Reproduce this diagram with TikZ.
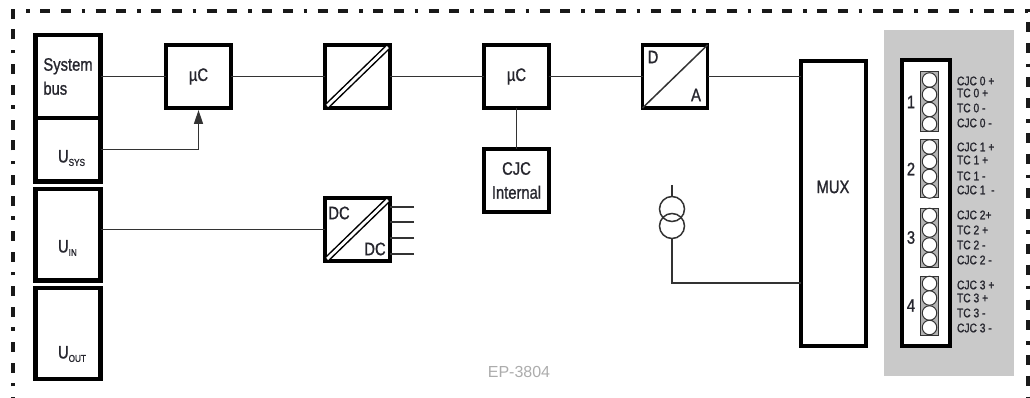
\documentclass[tikz,border=0pt]{standalone}
\usepackage{fontspec}
\setmainfont[FakeStretch=0.82, FakeBold=1.1]{Liberation Sans}
\newfontfamily\widefont{Liberation Sans}
\usetikzlibrary{arrows.meta}
\definecolor{ink}{HTML}{26262E}
\definecolor{wirecol}{HTML}{333333}
\definecolor{panelcol}{HTML}{C9C9C9}
\newcommand{\usub}[1]{U\raisebox{-3.5pt}{\fontsize{10}{10}\selectfont #1}}

\begin{document}
\begin{tikzpicture}[
  x=1pt, y=-1pt,
  every node/.style={inner sep=0pt, outer sep=0pt},
  block/.style={draw, line width=4.6pt, minimum width=65pt, minimum height=63pt, fill=white},
  slot/.style={draw=wirecol, line width=1pt, minimum width=18pt, minimum height=#1, fill=gray!60},
  pin/.style={circle, draw=wirecol, line width=1pt, fill=white, minimum size=14.5pt},
  coil/.style={circle, draw=wirecol, line width=1.5pt, minimum size=25pt},
  wire/.style={draw=wirecol, line width=1.5pt},
  arrow/.style={draw=wirecol, line width=1.5pt, -{Triangle[length=14pt,width=9pt]}, shorten >=2pt},
  dbl/.style={draw=black, line width=1.5pt, double=white, double distance=2.8pt, shorten >=3pt, shorten <=3pt},
  txt/.style={text=ink, font=\fontsize{18}{24}\selectfont},
  tiny/.style={text=ink, anchor=west, font=\fontsize{12.5}{14}\selectfont},
  frameline/.style={draw=black!90, line width=3.2pt, dash pattern=on 10pt off 10.8pt on 10pt off 10.8pt on 3.5pt off 10.4pt, dash phase=30pt}]

  \useasboundingbox (0,0) rectangle (1030,398);

  % outer frame
  \coordinate (fa) at (13,398);
  \coordinate (fb) at (13,11);
  \coordinate (fc) at (1028,11);
  \coordinate (fd) at (1028,398);
  \draw[frameline] (fa) -- (fb) -- (fc) -- (fd);

  % left column
  \node[block, minimum height=83pt, txt, align=left] (sys) at (68,76.5) {System\\bus};
  \node[block, minimum height=63.5pt] (usys) at (68,149.75) {};
  \node[block, minimum height=91.5pt] (uin)  at (68,234.75) {};
  \node[block, minimum height=91pt] (uout) at (68,333.5) {};
  \node[txt, anchor=west] (usyst) at (58,158) {\usub{SYS}};
  \node[txt, anchor=west] (uint)  at (58,248) {\usub{IN}};
  \node[txt, anchor=west] (uoutt) at (58,354) {\usub{OUT}};

  % top row
  \node[block, txt] (uca) at (198.5,76.5) {µC};
  \node[block, line width=3.8pt] (conv) at (357.5,76.5) {};
  \node[block, line width=3.8pt, txt] (ucb) at (516.5,76.5) {µC};
  \node[block, line width=3.8pt] (da) at (675,76.5) {};
  \node[block, line width=4.8pt, txt, align=center] (cjc) at (516.5,180.5) {CJC\\Internal};
  \node[block, line width=3.8pt] (dcdc) at (357.5,229.5) {};
  \node[block, line width=3.8pt, minimum height=285pt] (mux) at (833.5,203.5) {};

  \node[txt] (muxt) at (833,187) {MUX};
  \node[txt] (dt)   at (653,57)  {D};
  \node[txt] (at)   at (696,95)  {A};
  \node[txt] (dca)  at (339,213) {DC};
  \node[txt] (dcb)  at (375,249) {DC};

  \draw[dbl] (conv.south west) -- (conv.north east);
  \draw[dbl] (dcdc.south west) -- (dcdc.north east);
  \draw[wire] (da.south west) -- (da.north east);

  % wires
  \draw[wire] (sys) -- (uca);
  \draw[wire] (uca) -- (conv);
  \draw[wire] (conv) -- (ucb);
  \draw[wire] (ucb) -- (da);
  \draw[wire] (da.east) -- (da.east -| mux.west);
  \draw[wire] (ucb) -- (cjc);
  \draw[arrow] (usys.east) -| (uca.south);
  \draw[wire] (dcdc.west) -- (dcdc.west -| uin.east);

  \foreach \y in {207,222,238,254} {
    \coordinate (out\y) at (414,\y);
    \draw[wire] (out\y) -- (out\y -| dcdc.east);
  }

  % current source
  \node[coil] (coa) at (672,209) {};
  \node[coil] (cob) at (672,226) {};
  \coordinate (cotop) at (672,185);
  \coordinate (cojoin) at (672,283);
  \draw[wire] (cotop) -- (coa.north);
  \draw[wire] (cob.south) -- (cojoin) -- (cojoin -| mux.west);

  % terminals
  \node[fill=panelcol, minimum width=130pt, minimum height=346pt] (panel) at (949,203) {};
  \node[block, minimum width=48pt, minimum height=286pt] (conn) at (926,203) {};

  \foreach \n/\y/\h in {1/102/60pt, 2/169/58pt, 3/237.5/59pt, 4/305.5/59pt} {
    \node[slot=\h] (slot\n) at (929.5,\y) {};
    \node[txt] (num\n) at (911,\y) {\n};
    \foreach \k/\d in {a/-22, b/-7.5, c/7.5, d/22} {
      \node[pin] (pin\n\k) at (929.5,\y+\d) {};
    }
  }

  \foreach \i/\t/\y in {
    a/CJC 0 +/81, b/TC 0 +/93, c/TC 0 -/108, d/CJC 0 -/123,
    e/CJC 1 +/147, f/TC 1 +/160, g/TC 1 -/176, h/CJC 1 ~-/190,
    i/CJC 2+/215, j/TC 2 +/230, k/TC 2 -/245, l/CJC 2 -/260,
    m/CJC 3 +/285, n/TC 3 +/298, o/TC 3 -/313, p/CJC 3 -/328} {
    \node[tiny] (lab\i) at (957,\y) {\t};
  }

  \node[text=gray!65, font=\widefont\fontsize{16}{18}\selectfont] (ep) at (519,372) {EP-3804};

\end{tikzpicture}
\end{document}
